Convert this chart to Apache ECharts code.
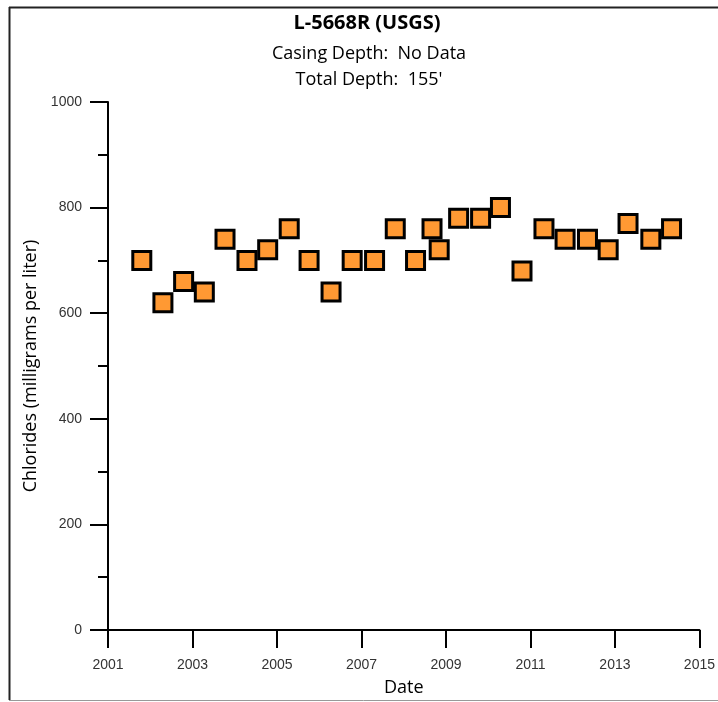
<!DOCTYPE html>
<html>
<head>
<meta charset="utf-8">
<script src="https://cdn.jsdelivr.net/npm/echarts@6/dist/echarts.min.js"></script>
<style>html,body{margin:0;padding:0;background:#fff;}#c{width:718px;height:702px;}</style>
</head>
<body>
<div id="c"></div>
<script>
const titleText = 'L-5668R (USGS)';
const subtitleLines = ['Casing Depth:  No Data', "Total Depth:  155'"];
const xAxisName = 'Date';
const yAxisName = 'Chlorides (milligrams per liter)';
const sampleDates = [2001.80, 2002.30, 2002.79, 2003.28, 2003.77, 2004.29, 2004.78, 2005.29, 2005.76,
  2006.28, 2006.78, 2007.31, 2007.80, 2008.28, 2008.67, 2008.84, 2009.30, 2009.82, 2010.29,
  2010.80, 2011.32, 2011.82, 2012.35, 2012.84, 2013.31, 2013.85, 2014.34];
const chlorides = [700, 620, 660, 640, 740, 700, 720, 760, 700,
  640, 700, 700, 760, 700, 760, 720, 780, 780, 800,
  680, 760, 740, 740, 720, 770, 740, 760];

const chart = echarts.init(document.getElementById('c'), null, {renderer: 'canvas'});
const points = sampleDates.map((d, i) => [d, chlorides[i]]);
chart.setOption({
  animation: false,
  backgroundColor: '#fff',
  title: [
    {text: titleText, left: 362, top: 8, textAlign: 'center',
     textStyle: {fontFamily: 'Open Sans', fontWeight: 'bold', fontSize: 20, color: '#000'}},
    {text: subtitleLines.join('\n'), left: 364, top: 36, textAlign: 'center',
     textStyle: {fontFamily: 'Open Sans', fontWeight: 'normal', fontSize: 18, lineHeight: 26, color: '#000'}}
  ],
  graphic: [
    {type: 'line', shape: {x1: 9.5, y1: 7, x2: 9.5, y2: 700}, style: {stroke: '#222', lineWidth: 2}},
    {type: 'line', shape: {x1: 9, y1: 7.5, x2: 718, y2: 7.5}, style: {stroke: '#222', lineWidth: 2}},
    {type: 'line', shape: {x1: 9, y1: 700.5, x2: 718, y2: 700.5}, style: {stroke: '#999', lineWidth: 1}}
  ],
  grid: {left: 108, right: 17, top: 102, bottom: 68, containLabel: false},
  xAxis: {
    type: 'value', min: 2001, max: 2015, interval: 2,
    name: xAxisName, nameLocation: 'middle', nameGap: 49,
    nameTextStyle: {fontFamily: 'Open Sans', fontSize: 18, color: '#000'},
    axisLine: {show: true, onZero: false, lineStyle: {color: '#000', width: 2}},
    axisTick: {show: true, inside: false, length: 18, lineStyle: {color: '#000', width: 2}},
    axisLabel: {margin: 28, fontFamily: 'Liberation Sans', fontSize: 14, color: '#333', formatter: v => String(v)},
    splitLine: {show: false}
  },
  yAxis: {
    type: 'value', min: 0, max: 1000, interval: 200,
    name: yAxisName, nameLocation: 'middle', nameGap: 68,
    nameTextStyle: {fontFamily: 'Open Sans', fontSize: 18, color: '#000'},
    axisLine: {show: true, lineStyle: {color: '#000', width: 2}},
    axisTick: {show: true, inside: false, length: 18, lineStyle: {color: '#000', width: 2}},
    minorTick: {show: true, splitNumber: 2, length: 10, lineStyle: {color: '#000', width: 2}},
    axisLabel: {margin: 26, fontFamily: 'Liberation Sans', fontSize: 14, color: '#333', formatter: v => String(v)},
    splitLine: {show: false}
  },
  series: [{
    type: 'scatter',
    data: points,
    symbol: 'rect',
    symbolSize: 18,
    itemStyle: {color: '#FF9933', borderColor: '#000', borderWidth: 3, opacity: 1}
  }]
});
</script>
</body>
</html>
